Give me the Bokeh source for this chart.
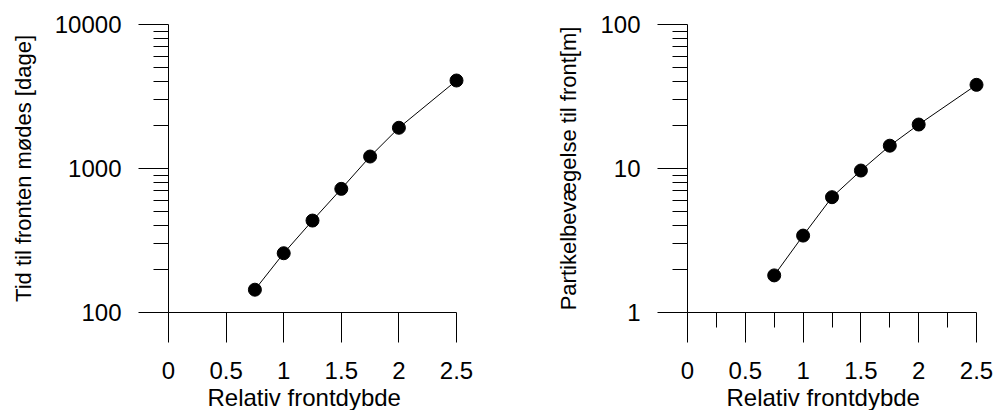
from bokeh.plotting import figure
from bokeh.layouts import row
from bokeh.models import Range1d, FixedTicker, CustomJSTickFormatter, Title
from bokeh.embed import file_html
from bokeh.resources import INLINE

# ---- data ----
rel_depth = [0.75, 1.0, 1.25, 1.5, 1.75, 2.0, 2.5]
days = [144, 258, 435, 722, 1211, 1918, 4084]
movement = [1.81, 3.42, 6.32, 9.68, 14.4, 20.2, 38.1]

x_ticks = [0, 0.5, 1, 1.5, 2, 2.5]
x_minor_ticks = [0.25, 0.75, 1.25, 1.75, 2.25]
y1_ticks = [100, 1000, 10000]
y2_ticks = [1, 10, 100]

x_label = "Relativ frontdybde"
y1_label = "Tid til fronten mødes [dage]"
y2_label = "Partikelbevægelse til front[m]"

FONT = "Liberation Sans"
X_MAX = 2.5
PAD_PX = 10  # extra frame room so the last marker is not clipped


def log_minor(ticks):
    out = []
    for t in ticks[:-1]:
        out += [t * m for m in range(2, 10)]
    return out


def make_panel(xs, ys, y_ticks, ylabel, fig_w, left_border, frame_w, x_minor):
    x_end = X_MAX * (frame_w + PAD_PX) / frame_w
    right_border = fig_w - left_border - frame_w - PAD_PX
    p = figure(width=fig_w, height=410,
               x_range=Range1d(0, x_end),
               y_range=Range1d(y_ticks[0], y_ticks[-1]),
               y_axis_type="log",
               output_backend="svg", toolbar_location=None,
               min_border_left=left_border, min_border_right=right_border,
               min_border_top=24, min_border_bottom=98)
    p.outline_line_color = None
    p.xgrid.visible = False
    p.ygrid.visible = False
    p.background_fill_color = "white"
    p.border_fill_color = "white"

    fmt = CustomJSTickFormatter(code="return tick.toString();")

    xa = p.xaxis[0]
    xa.ticker = FixedTicker(ticks=x_ticks, minor_ticks=x_minor)
    xa.formatter = fmt
    xa.bounds = (0, X_MAX)
    ya = p.yaxis[0]
    ya.ticker = FixedTicker(ticks=y_ticks, minor_ticks=log_minor(y_ticks))
    ya.formatter = fmt
    ya.axis_label = ylabel

    for ax in (xa, ya):
        ax.axis_line_color = "black"
        ax.axis_line_width = 1
        ax.major_tick_line_color = "black"
        ax.minor_tick_line_color = "black"
        ax.major_tick_in = 0
        ax.major_tick_out = 30
        ax.minor_tick_in = 0
        ax.minor_tick_out = 15
        ax.major_label_text_font = FONT
        ax.major_label_text_font_size = "24px"
        ax.major_label_text_color = "black"
        ax.axis_label_text_font = FONT
        ax.axis_label_text_font_style = "normal"
        ax.axis_label_text_color = "black"
    ya.axis_label_text_font_size = "22px"
    xa.major_label_standoff = 19
    ya.major_label_standoff = 17
    ya.axis_label_standoff = 16

    # x-axis title, placed like the reference (slightly left of the frame centre)
    t = Title(text=x_label, align="left", offset=39, standoff=0,
              text_font=FONT, text_font_size="24px", text_font_style="normal",
              text_color="black")
    p.add_layout(t, "below")

    p.line(xs, ys, line_color="black", line_width=1)
    p.scatter(xs, ys, size=13, fill_color="black", line_color="black")
    return p


p1 = make_panel(rel_depth, days, y1_ticks, y1_label, 501, 168, 288, [])
p2 = make_panel(rel_depth, movement, y2_ticks, y2_label, 501, 186, 289, x_minor_ticks)

layout = row(p1, p2)

open("out.html", "w").write(file_html(layout, INLINE))
